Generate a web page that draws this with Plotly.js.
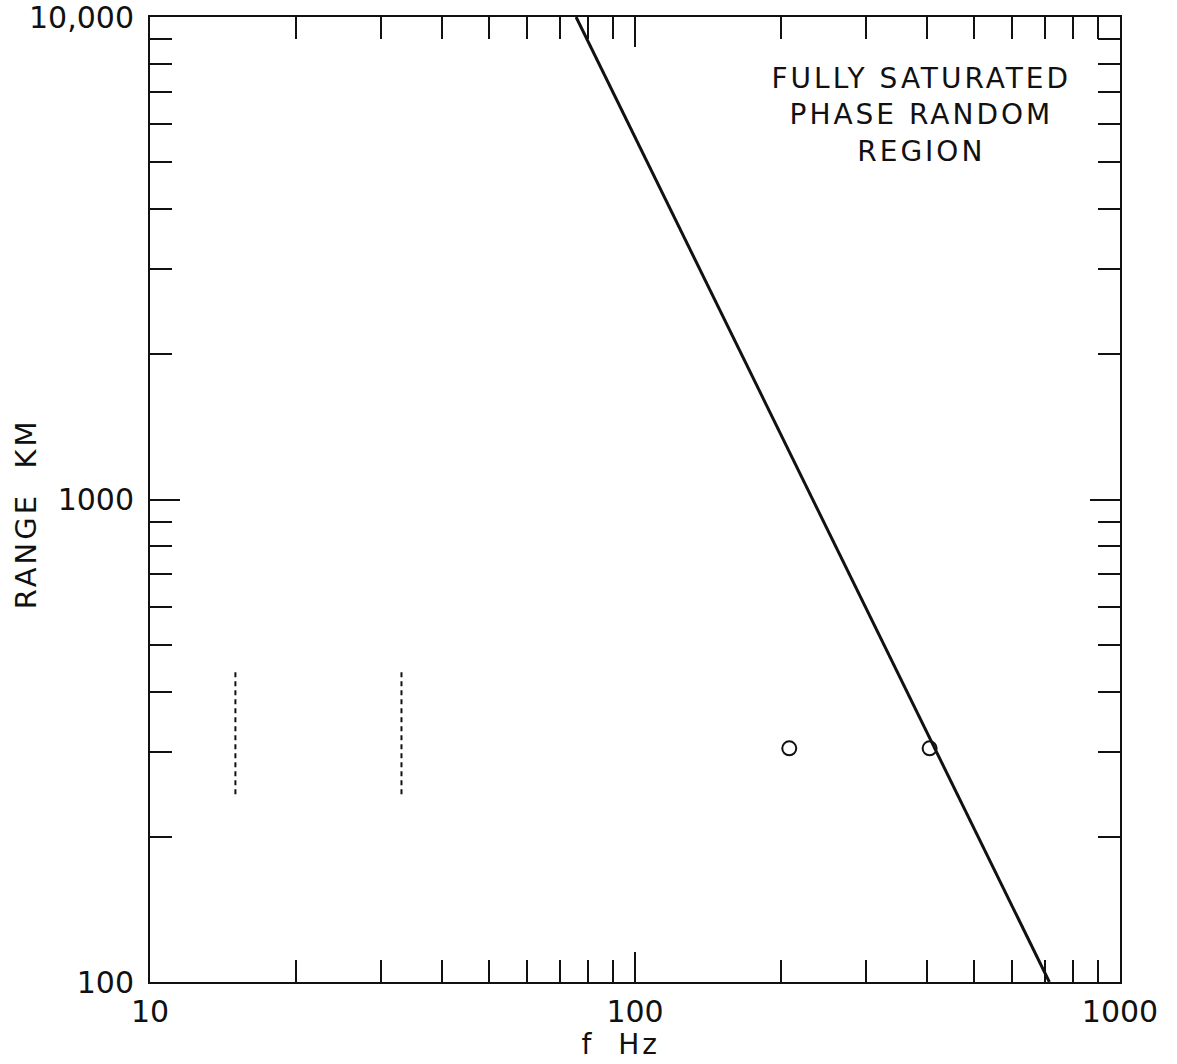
<!DOCTYPE html>
<html>
<head>
<meta charset="utf-8">
<script src="https://cdn.plot.ly/plotly-3.0.1.min.js"></script>
<style>
html,body{margin:0;padding:0;background:#fff;}
#chart{width:1177px;height:1064px;}
#chart .annotation-text{letter-spacing:3px;}
</style>
</head>
<body>
<div id="chart"></div>
<script>
// Saturation boundary line (R ~ f^-2)
const lineFreq = [75.6, 715];
const lineRange = [10000, 100];

// Measured points (circles)
const pointFreq = [208, 405];
const pointRange = [305, 305];

// Vertical dashed range bars
const barAFreq = [15, 15];
const barARange = [245, 445];
const barBFreq = [33, 33];
const barBRange = [245, 445];

// Axis ticks
const xTickVals = [10, 100, 1000];
const xTickText = ['10', '100', '1000'];
const yTickVals = [100, 1000, 10000];
const yTickText = ['100', '1000', '10,000'];
const minorX = [20,30,40,50,60,70,80,90,200,300,400,500,600,700,800,900];
const minorY = [200,300,400,500,600,700,800,900,2000,3000,4000,5000,6000,7000,8000,9000];

const regionLabel = 'FULLY SATURATED<br>PHASE RANDOM<br>REGION';
const xTitle = 'f  Hz';
const yTitle = 'RANGE  KM';

const font = {family: 'DejaVu Sans, sans-serif', color: '#111'};

const traces = [
  {x: lineFreq, y: lineRange, mode: 'lines', line: {color: '#111', width: 3}, cliponaxis: true, hoverinfo: 'skip'},
  {x: barAFreq, y: barARange, mode: 'lines', line: {color: '#111', width: 2, dash: '5px,4px'}, hoverinfo: 'skip'},
  {x: barBFreq, y: barBRange, mode: 'lines', line: {color: '#111', width: 2, dash: '5px,4px'}, hoverinfo: 'skip'},
  {x: pointFreq, y: pointRange, mode: 'markers', marker: {symbol: 'circle-open', size: 14, color: '#111', line: {width: 2, color: '#111'}}, hoverinfo: 'skip'}
];

const layout = {
  width: 1177, height: 1064,
  margin: {l: 150, r: 57, t: 17, b: 82},
  paper_bgcolor: '#fff', plot_bgcolor: '#fff',
  showlegend: false,
  font: font,
  xaxis: {
    type: 'log', range: [1, 3],
    showline: true, linecolor: '#111', linewidth: 2, mirror: 'ticks',
    showgrid: false, zeroline: false,
    tickmode: 'array', tickvals: xTickVals, ticktext: xTickText,
    ticks: 'inside', ticklen: 30, tickwidth: 2, tickcolor: '#111',
    tickfont: {family: font.family, size: 30, color: '#111'},
    ticklabelstandoff: 2, ticklabeloverflow: 'allow',
    minor: {tickmode: 'array', tickvals: minorX, ticks: 'inside', ticklen: 22, tickwidth: 2, tickcolor: '#111', showgrid: false}
  },
  yaxis: {
    type: 'log', range: [2, 4],
    showline: true, linecolor: '#111', linewidth: 2, mirror: 'ticks',
    showgrid: false, zeroline: false,
    tickmode: 'array', tickvals: yTickVals, ticktext: yTickText,
    ticks: 'inside', ticklen: 30, tickwidth: 2, tickcolor: '#111',
    tickfont: {family: font.family, size: 30, color: '#111'},
    ticklabelstandoff: 8, ticklabeloverflow: 'allow',
    minor: {tickmode: 'array', tickvals: minorY, ticks: 'inside', ticklen: 22, tickwidth: 2, tickcolor: '#111', showgrid: false}
  },
  annotations: [
    {
      xref: 'paper', yref: 'paper', x: 0.795, y: 0.955, xanchor: 'center', yanchor: 'top',
      text: regionLabel, showarrow: false, align: 'center',
      font: {family: font.family, size: 28, color: '#111'}
    },
    {
      xref: 'paper', yref: 'paper', x: 0.485, y: -0.065, xanchor: 'center', yanchor: 'middle',
      text: xTitle, showarrow: false,
      font: {family: font.family, size: 28, color: '#111'}
    },
    {
      xref: 'paper', yref: 'paper', x: -0.128, y: 0.485, xanchor: 'center', yanchor: 'middle',
      text: yTitle, showarrow: false, textangle: -90,
      font: {family: font.family, size: 29, color: '#111'}
    }
  ]
};

Plotly.newPlot('chart', traces, layout, {displayModeBar: false, staticPlot: true});
</script>
</body>
</html>
